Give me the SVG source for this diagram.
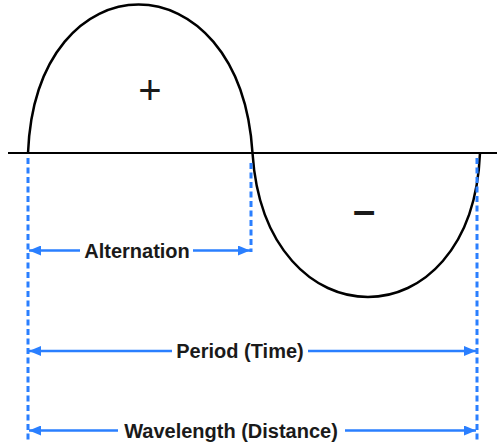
<svg xmlns="http://www.w3.org/2000/svg" width="499" height="443" viewBox="0 0 499 443">
<style>
.axis{stroke:#000;stroke-width:2;fill:none}
.wave{stroke:#000;stroke-width:2.5;fill:none}
.dash{stroke:#2a7fff;stroke-width:3;stroke-dasharray:6 3.5;fill:none}
.dim{stroke:#2a7fff;stroke-width:2.5;fill:none}
.lbl{font-family:"Liberation Sans",Arial,sans-serif;font-weight:bold;font-size:20px;fill:#1a1a1a;text-anchor:middle}
.sign{font-family:"Liberation Sans",Arial,sans-serif;fill:#1a1a1a;text-anchor:middle}
</style>
<defs>
<marker id="ah" viewBox="0 0 12 10" refX="12" refY="5" markerWidth="12" markerHeight="10" markerUnits="userSpaceOnUse" orient="auto-start-reverse">
<path d="M0,0 L12,5 L0,10 Z" fill="#2a7fff"/>
</marker>
</defs>
<g id="axis"><line class="axis" x1="8" y1="153" x2="497" y2="153"/></g>
<g id="wave">
<path class="wave" d="M28,153 C36,-45 240,-45 252.5,153 C265,345 472,345 480,153"/>
</g>
<g id="plus"><text class="sign" x="150" y="104" font-size="40">+</text></g>
<g id="minus"><text class="sign" x="364" y="224" font-size="40" font-weight="bold">–</text></g>
<g id="connectors">
<line class="dash" x1="28" y1="158" x2="28" y2="440"/>
<line class="dash" x1="251" y1="163" x2="251" y2="252"/>
<line class="dash" x1="477" y1="158" x2="477" y2="440"/>
<line class="dim" x1="80" y1="250.5" x2="29" y2="250.5" marker-end="url(#ah)"/>
<line class="dim" x1="193" y1="250.5" x2="250" y2="250.5" marker-end="url(#ah)"/>
<line class="dim" x1="172" y1="351" x2="29" y2="351" marker-end="url(#ah)"/>
<line class="dim" x1="308" y1="351" x2="476" y2="351" marker-end="url(#ah)"/>
<line class="dim" x1="118" y1="430.5" x2="29" y2="430.5" marker-end="url(#ah)"/>
<line class="dim" x1="345" y1="430.5" x2="476" y2="430.5" marker-end="url(#ah)"/>
</g>
<g id="label-alternation"><text class="lbl" x="137" y="257.5">Alternation</text></g>
<g id="label-period"><text class="lbl" x="240" y="358">Period (Time)</text></g>
<g id="label-wavelength"><text class="lbl" x="231" y="437.5">Wavelength (Distance)</text></g>
</svg>
